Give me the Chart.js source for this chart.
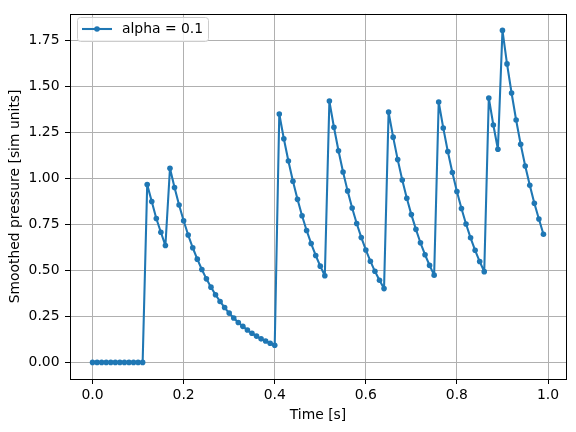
<!DOCTYPE html>
<html>
<head>
<meta charset="utf-8">
<script src="https://cdn.jsdelivr.net/npm/chart.js@4.4.1/dist/chart.umd.min.js"></script>
<style>
html,body{margin:0;padding:0;background:#fff;}
canvas{display:block;}
</style>
</head>
<body>
<canvas id="c" width="576" height="432"></canvas>
<script>
const times = [0.00,0.01,0.02,0.03,0.04,0.05,0.06,0.07,0.08,0.09,
0.10,0.11,0.12,0.13,0.14,0.15,0.16,0.17,0.18,0.19,
0.20,0.21,0.22,0.23,0.24,0.25,0.26,0.27,0.28,0.29,
0.30,0.31,0.32,0.33,0.34,0.35,0.36,0.37,0.38,0.39,
0.40,0.41,0.42,0.43,0.44,0.45,0.46,0.47,0.48,0.49,
0.50,0.51,0.52,0.53,0.54,0.55,0.56,0.57,0.58,0.59,
0.60,0.61,0.62,0.63,0.64,0.65,0.66,0.67,0.68,0.69,
0.70,0.71,0.72,0.73,0.74,0.75,0.76,0.77,0.78,0.79,
0.80,0.81,0.82,0.83,0.84,0.85,0.86,0.87,0.88,0.89,
0.90,0.91,0.92,0.93,0.94,0.95,0.96,0.97,0.98,0.99];

const pressure = [0,0,0,0,0,0,0,0,0,0,0,0,
0.966,0.874,0.782,0.707,0.635,
1.055,0.950,0.855,0.770,0.692,0.623,0.561,0.505,0.454,0.409,0.368,0.331,0.298,0.268,0.241,0.217,0.196,0.176,0.158,0.143,0.128,0.116,0.104,0.093,
1.350,1.215,1.094,0.984,0.886,0.797,0.717,0.646,0.581,0.523,0.471,
1.420,1.278,1.150,1.035,0.932,0.839,0.755,0.679,0.611,0.550,0.495,0.446,0.401,
1.360,1.224,1.102,0.991,0.892,0.803,0.723,0.650,0.585,0.527,0.474,
1.415,1.274,1.146,1.032,0.929,0.836,0.752,0.677,0.609,0.548,0.493,
1.437,1.290,1.158,1.804,1.622,1.464,1.317,1.185,1.067,0.962,0.865,0.779,0.696];

const seriesLabel = 'alpha = 0.1';
const xTickValues = [0.0,0.2,0.4,0.6,0.8,1.0];
const xTickLabels = ['0.0','0.2','0.4','0.6','0.8','1.0'];
const yTickValues = [0.00,0.25,0.50,0.75,1.00,1.25,1.50,1.75];
const yTickLabels = ['0.00','0.25','0.50','0.75','1.00','1.25','1.50','1.75'];
const xTitle = 'Time [s]';
const yTitle = 'Smoothed pressure [sim units]';

const COLOR = '#1f77b4';
const FONT = 'DejaVu Sans';
const FS = 13.9;
const tickFont = {family: FONT, size: FS};

const points = times.map((t,i)=>({x:t, y:pressure[i]}));

const framePlugin = {
  id: 'frame',
  afterDatasetsDraw(chart){
    const {ctx, chartArea:a} = chart;
    ctx.save();
    ctx.strokeStyle = '#000';
    ctx.lineWidth = 1;
    ctx.strokeRect(Math.round(a.left)+0.5, Math.round(a.top)+0.5, Math.round(a.right-a.left), Math.round(a.bottom-a.top));
    // legend
    const ds = chart.data.datasets[0];
    const bx = 77.5, by = 17.5, bw = 131, bh = 24, r = 3;
    ctx.beginPath();
    ctx.moveTo(bx+r, by);
    ctx.lineTo(bx+bw-r, by); ctx.arcTo(bx+bw, by, bx+bw, by+r, r);
    ctx.lineTo(bx+bw, by+bh-r); ctx.arcTo(bx+bw, by+bh, bx+bw-r, by+bh, r);
    ctx.lineTo(bx+r, by+bh); ctx.arcTo(bx, by+bh, bx, by+bh-r, r);
    ctx.lineTo(bx, by+r); ctx.arcTo(bx, by, bx+r, by, r);
    ctx.closePath();
    ctx.fillStyle = 'rgba(255,255,255,0.8)';
    ctx.fill();
    ctx.strokeStyle = '#cccccc';
    ctx.stroke();
    const ly = 29;
    ctx.strokeStyle = ds.borderColor;
    ctx.lineWidth = 2.08;
    ctx.beginPath(); ctx.moveTo(82, ly); ctx.lineTo(112, ly); ctx.stroke();
    ctx.fillStyle = ds.borderColor;
    ctx.beginPath(); ctx.arc(97, ly, 2.8, 0, Math.PI*2); ctx.fill();
    ctx.fillStyle = '#000';
    ctx.font = FS + 'px "DejaVu Sans"';
    ctx.textBaseline = 'middle';
    ctx.textAlign = 'left';
    ctx.fillText(ds.label, 122, ly+0.5);
    ctx.restore();
  }
};

new Chart(document.getElementById('c'), {
  type: 'line',
  data: {
    datasets: [{
      label: seriesLabel,
      data: points,
      borderColor: COLOR,
      backgroundColor: COLOR,
      borderWidth: 2.08,
      borderJoinStyle: 'round',
      borderCapStyle: 'round',
      pointRadius: 2.8,
      pointBorderWidth: 0,
      pointHoverRadius: 2.8,
      tension: 0,
      fill: false
    }]
  },
  options: {
    responsive: false,
    devicePixelRatio: 1,
    animation: false,
    events: [],
    layout: {padding: {left: 0, top: 9, right: 10, bottom: 0}},
    plugins: {legend: {display: false}, tooltip: {enabled: false}},
    scales: {
      x: {
        type: 'linear',
        min: -0.0495, max: 1.0395,
        afterBuildTicks(s){ s.ticks = xTickValues.map(v=>({value:v})); },
        afterFit(s){ s.height = 53; },
        ticks: {
          font: tickFont, color: '#000', padding: 3.5, maxRotation: 0, autoSkip: false,
          callback(v, i){ return xTickLabels[i]; }
        },
        grid: {color: '#b0b0b0', lineWidth: 1, tickColor: '#000', tickLength: 5, tickWidth: 1},
        border: {display: false},
        title: {display: true, text: xTitle, font: tickFont, color: '#000', padding: {top: 0, bottom: 8.5}}
      },
      y: {
        type: 'linear',
        min: -0.0902, max: 1.894,
        afterBuildTicks(s){ s.ticks = yTickValues.map(v=>({value:v})); },
        afterFit(s){ s.width = 70; },
        ticks: {
          font: tickFont, color: '#000', padding: 5.5, autoSkip: false,
          callback(v, i){ return yTickLabels[i]; }
        },
        grid: {color: '#b0b0b0', lineWidth: 1, tickColor: '#000', tickLength: 5, tickWidth: 1},
        border: {display: false},
        title: {display: true, text: yTitle, font: tickFont, color: '#000', padding: {top: 7, bottom: 0}}
      }
    }
  },
  plugins: [framePlugin]
});
</script>
</body>
</html>
